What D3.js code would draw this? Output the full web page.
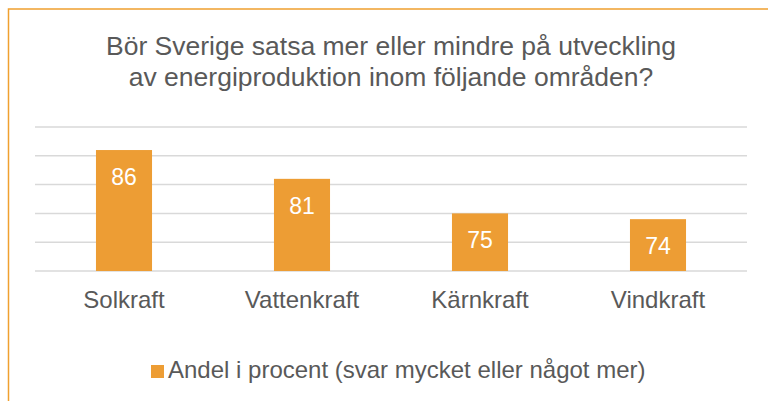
<!DOCTYPE html>
<html>
<head>
<meta charset="utf-8">
<script src="https://cdn.jsdelivr.net/npm/d3@7"></script>
<style>
  body { margin: 0; background: #fff; }
  svg { display: block; font-family: "Liberation Sans", Arial, sans-serif; }
</style>
</head>
<body>
<div id="chart"></div>
<script>
const categories = ["Solkraft", "Vattenkraft", "Kärnkraft", "Vindkraft"];
const values = [86, 81, 75, 74];
const yTicks = [65, 70, 75, 80, 85, 90];
const titleLines = [
  "Bör Sverige satsa mer eller mindre på utveckling",
  "av energiproduktion inom följande områden?"
];
const seriesName = "Andel i procent (svar mycket eller något mer)";

const W = 768, H = 401;
const margin = { top: 127, right: 21, bottom: 130, left: 35 },
  width = W - margin.left - margin.right,
  height = H - margin.top - margin.bottom;

const orange = "#ED9D34";
const textGrey = "#595959";

const svgRoot = d3.select("#chart").append("svg")
  .attr("width", W)
  .attr("height", H);

// frame (right and bottom sides fall outside the picture)
svgRoot.append("rect")
  .attr("x", 8.5).attr("y", 9)
  .attr("width", 800).attr("height", 420)
  .attr("fill", "none")
  .attr("stroke", "#F0A02F")
  .attr("stroke-width", 1.5);

svgRoot.append("g")
  .selectAll("text")
  .data(titleLines)
  .enter()
  .append("text")
  .attr("x", 391)
  .attr("y", function (d, i) { return 55 + i * 31; })
  .attr("text-anchor", "middle")
  .attr("font-size", 26.5)
  .attr("fill", textGrey)
  .text(function (d) { return d; });

const svg = svgRoot.append("g")
  .attr("transform", "translate(" + margin.left + "," + margin.top + ")");

const x = d3.scaleBand().domain(categories).range([0, width]).paddingInner(0.685).paddingOuter(0.3425);
const y = d3.scaleLinear().domain([65, 90]).range([height, 0]);

// gridlines
svg.append("g")
  .selectAll("line")
  .data(yTicks)
  .enter()
  .append("line")
  .attr("x1", 0)
  .attr("x2", width)
  .attr("y1", function (d) { return y(d); })
  .attr("y2", function (d) { return y(d); })
  .attr("stroke", "#D9D9D9")
  .attr("stroke-width", 1.5);

const data = categories.map(function (c, i) { return { cat: c, val: values[i] }; });

svg.append("g")
  .selectAll("rect")
  .data(data)
  .enter()
  .append("rect")
  .attr("x", function (d) { return x(d.cat); })
  .attr("y", function (d) { return y(d.val); })
  .attr("width", x.bandwidth())
  .attr("height", function (d) { return y(65) - y(d.val); })
  .attr("fill", orange);

svg.append("g")
  .selectAll("text")
  .data(data)
  .enter()
  .append("text")
  .attr("x", function (d) { return x(d.cat) + x.bandwidth() / 2; })
  .attr("y", function (d) { return y(d.val) + 35; })
  .attr("text-anchor", "middle")
  .attr("font-size", 23)
  .attr("fill", "#fff")
  .text(function (d) { return d.val; });

// category axis
const xAxis = svg.append("g")
  .attr("transform", "translate(0," + height + ")")
  .call(d3.axisBottom(x).tickSize(0).tickPadding(0));
xAxis.select(".domain").remove();
xAxis.selectAll("text")
  .attr("dy", null)
  .attr("y", 37)
  .attr("font-size", 24)
  .attr("font-family", "Liberation Sans, Arial, sans-serif")
  .attr("fill", textGrey);

// legend
const legend = svgRoot.append("g").attr("transform", "translate(151,365)");
legend.append("rect")
  .attr("width", 13).attr("height", 13)
  .attr("fill", orange);
legend.append("text")
  .attr("x", 17)
  .attr("y", 13)
  .attr("font-size", 24)
  .attr("fill", textGrey)
  .text(seriesName);
</script>
</body>
</html>
